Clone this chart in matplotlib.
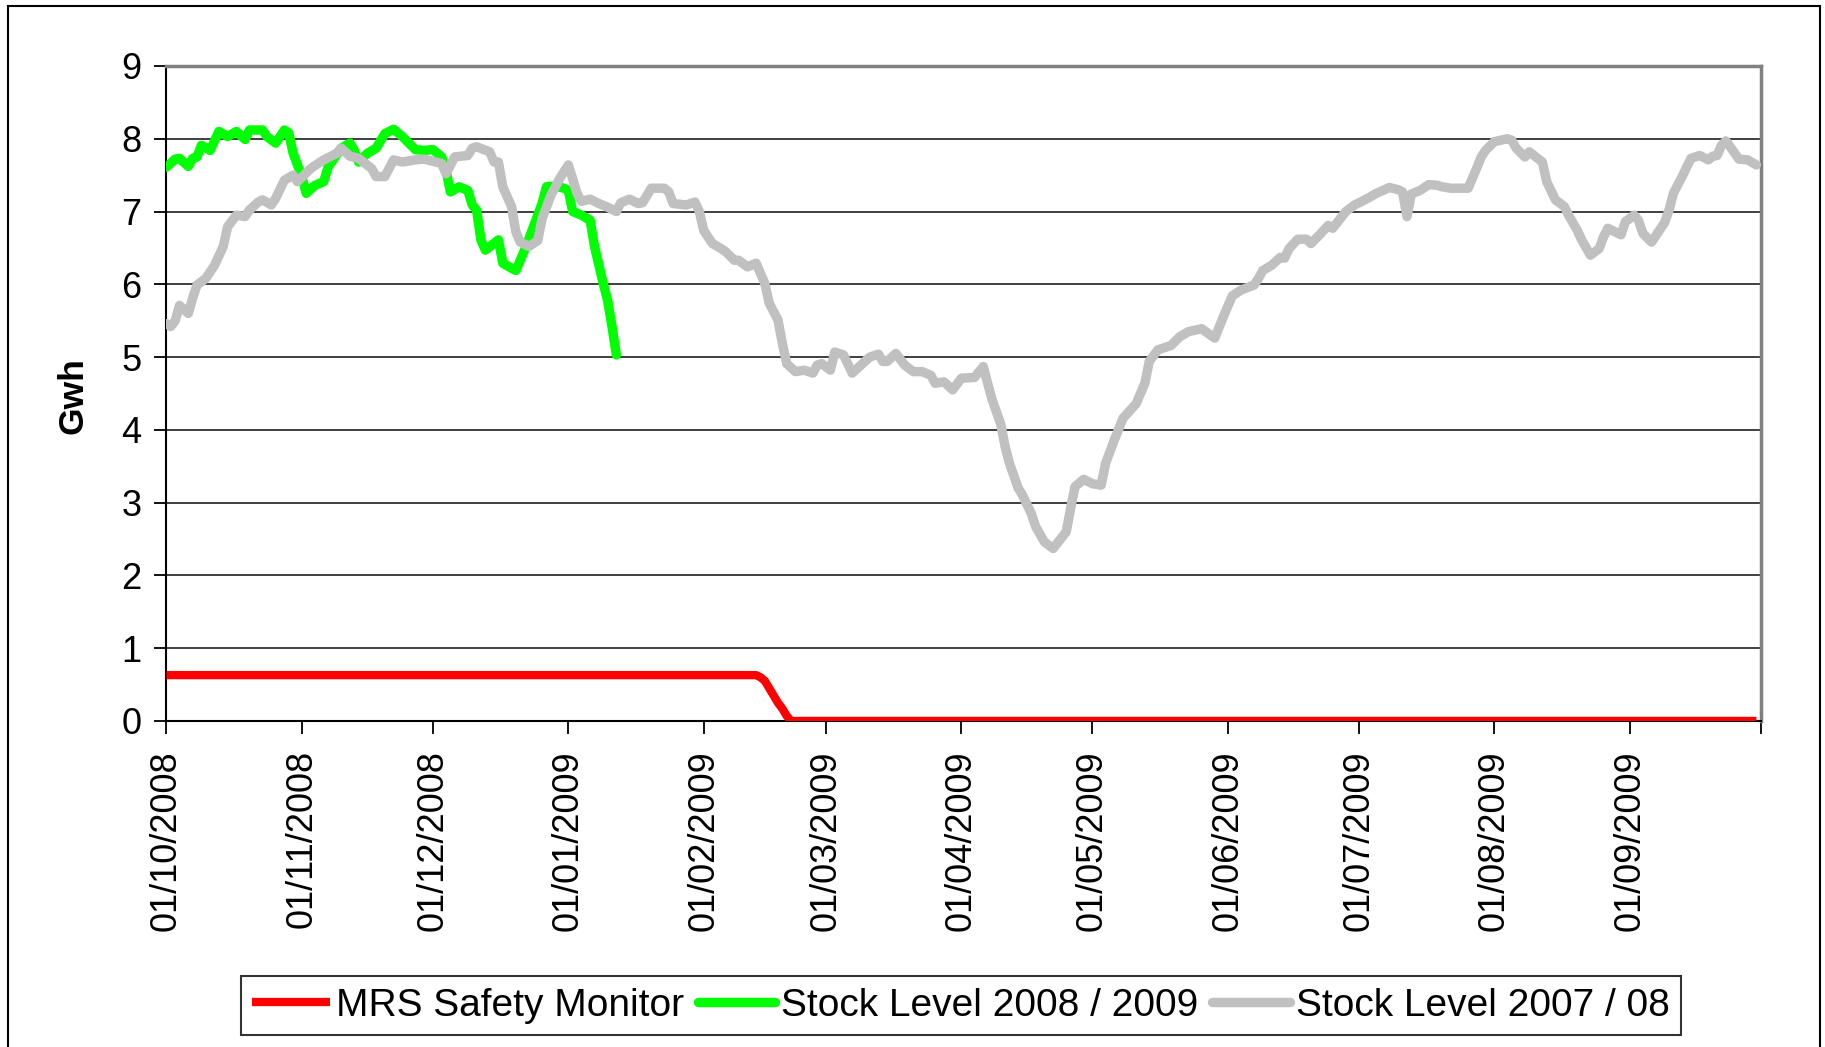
import numpy as np
import matplotlib
matplotlib.use('Agg')
import matplotlib.pyplot as plt
import matplotlib.dates as mdates
from matplotlib.patches import Rectangle

plt.rcParams['font.family'] = ['Liberation Sans', 'DejaVu Sans']

start = np.datetime64('2008-10-01')
end = np.datetime64('2009-10-01')

# day offsets from 01/10/2008 and stock values (Gwh)
red_days = [0, 135, 136, 137, 138, 139, 140, 141, 142, 143, 364]
red_vals = [0.63, 0.63, 0.60, 0.55, 0.45, 0.35, 0.25, 0.17, 0.07, 0.0, 0.0]

green_days = [0, 2, 3, 5, 6, 7, 8, 10, 12, 14, 16, 18, 19, 22, 23, 25, 27, 28, 29, 31,
              32, 34, 36, 37, 40, 42, 43, 44, 46, 48, 50, 52, 54, 57, 59, 61, 63, 64, 65,
              67, 69, 70, 71, 72, 73, 76, 77, 79, 80, 82, 84, 86, 87, 89, 91, 92, 93, 95,
              97, 98, 100, 101, 102, 103]
green_vals = [7.61, 7.72, 7.73, 7.62, 7.73, 7.75, 7.91, 7.84, 8.10, 8.03, 8.10, 7.99, 8.12,
              8.12, 8.03, 7.94, 8.12, 8.08, 7.80, 7.48, 7.25, 7.36, 7.41, 7.61, 7.87, 7.94,
              7.84, 7.68, 7.80, 7.87, 8.07, 8.13, 8.03, 7.85, 7.84, 7.85, 7.75, 7.57, 7.27,
              7.34, 7.29, 7.09, 7.02, 6.61, 6.47, 6.61, 6.29, 6.22, 6.19, 6.47, 6.79, 7.11,
              7.34, 7.35, 7.32, 7.29, 7.00, 6.95, 6.88, 6.52, 6.01, 5.78, 5.42, 5.03]

gray_days = [0, 1, 2, 3, 5, 6, 7, 9, 11, 13, 14, 16, 18, 19, 21, 22, 24, 25, 27, 29, 30,
             33, 36, 39, 40, 42, 44, 47, 48, 50, 52, 54, 57, 59, 63, 64, 66, 69, 70, 71,
             74, 75, 76, 77, 79, 80, 81, 83, 85, 86, 88, 90, 92, 93, 94, 95, 97, 99, 101,
             103, 104, 106, 108, 109, 111, 114, 115, 116, 119, 121, 122, 123, 125, 127,
             128, 130, 131, 133, 135, 137, 138, 140, 141, 142, 144, 146, 148, 149, 150,
             152, 153, 155, 157, 159, 161, 163, 164, 165, 167, 169, 171, 173, 175, 176,
             178, 180, 182, 185, 187, 188, 189, 191, 192, 193, 195, 196, 198, 199, 201,
             203, 206, 207, 208, 210, 212, 214, 215, 217, 219, 222, 224, 225, 227, 230,
             232, 234, 237, 240, 242, 244, 246, 249, 250, 251, 253, 255, 256, 257, 259,
             261, 262, 264, 266, 267, 270, 272, 275, 277, 280, 282, 283, 284, 285, 287,
             289, 291, 292, 294, 298, 300, 301, 302, 304, 307, 308, 309, 311, 312, 315,
             316, 318, 320, 321, 323, 324, 326, 328, 329, 330, 333, 334, 336, 337, 338,
             340, 343, 344, 345, 347, 349, 351, 353, 354, 355, 356, 357, 358, 360, 362, 364]
gray_vals = [5.46, 5.42, 5.50, 5.71, 5.60, 5.81, 5.99, 6.08, 6.26, 6.52, 6.79, 6.95, 6.93,
             7.02, 7.13, 7.16, 7.09, 7.18, 7.43, 7.50, 7.41, 7.59, 7.71, 7.80, 7.87, 7.76,
             7.73, 7.59, 7.48, 7.48, 7.71, 7.68, 7.71, 7.72, 7.66, 7.52, 7.75, 7.77, 7.87,
             7.89, 7.82, 7.68, 7.68, 7.34, 7.07, 6.72, 6.58, 6.52, 6.60, 6.90, 7.22, 7.45,
             7.64, 7.45, 7.25, 7.14, 7.17, 7.11, 7.06, 7.00, 7.12, 7.17, 7.11, 7.12, 7.32,
             7.32, 7.27, 7.11, 7.09, 7.13, 7.00, 6.74, 6.56, 6.49, 6.45, 6.33, 6.33, 6.24,
             6.29, 6.01, 5.74, 5.51, 5.19, 4.91, 4.80, 4.82, 4.78, 4.89, 4.91, 4.82, 5.07,
             5.03, 4.78, 4.89, 5.00, 5.04, 4.94, 4.94, 5.05, 4.89, 4.80, 4.80, 4.75, 4.64,
             4.66, 4.55, 4.71, 4.72, 4.87, 4.64, 4.42, 4.08, 3.77, 3.54, 3.20, 3.10, 2.85,
             2.67, 2.46, 2.37, 2.60, 2.92, 3.22, 3.32, 3.26, 3.24, 3.54, 3.86, 4.16, 4.36,
             4.64, 4.94, 5.10, 5.16, 5.28, 5.35, 5.39, 5.26, 5.56, 5.84, 5.92, 5.99, 6.08,
             6.19, 6.26, 6.37, 6.36, 6.49, 6.62, 6.62, 6.56, 6.68, 6.81, 6.77, 7.00, 7.09,
             7.18, 7.25, 7.33, 7.30, 7.27, 6.93, 7.24, 7.29, 7.37, 7.36, 7.34, 7.32, 7.32,
             7.60, 7.75, 7.84, 7.96, 8.00, 7.98, 7.87, 7.75, 7.82, 7.68, 7.41, 7.16, 7.07,
             6.95, 6.74, 6.61, 6.40, 6.49, 6.65, 6.77, 6.68, 6.86, 6.95, 6.88, 6.70, 6.58,
             6.85, 7.02, 7.25, 7.48, 7.73, 7.77, 7.71, 7.76, 7.77, 7.91, 7.97, 7.89, 7.72,
             7.71, 7.64]

labels = ['MRS Safety Monitor', 'Stock Level 2008 / 2009', 'Stock Level 2007 / 08']


def to_dates(days):
    return start + np.array(days).astype('timedelta64[D]')


def month_label(x, pos=None):
    d = mdates.num2date(x)
    if d.year == 2009 and d.month == 10:
        return ''
    return d.strftime('%d/%m/%Y')


fig = plt.figure(figsize=(18.25, 10.47), dpi=100)
ax = fig.add_axes([0.0912, 0.3114, 0.8736, 0.6256])

ax.plot(to_dates(red_days), red_vals, color='#FF0000', lw=6.0, label=labels[0],
        solid_joinstyle='round', solid_capstyle='butt', zorder=3)
ax.plot(to_dates(green_days), green_vals, color='#00FF00', lw=6.8, label=labels[1],
        solid_joinstyle='round', solid_capstyle='round', zorder=3)
ax.plot(to_dates(gray_days), gray_vals, color='#C0C0C0', lw=6.8, label=labels[2],
        solid_joinstyle='round', solid_capstyle='round', zorder=3)

ax.set_ylim(0, 9)
ax.set_yticks(range(0, 10))
ax.set_xlim(start, end)
ax.xaxis.set_major_locator(mdates.MonthLocator())
ax.xaxis.set_major_formatter(plt.FuncFormatter(month_label))
ax.yaxis.grid(True, color='#303030', lw=1.3)
ax.set_axisbelow(True)

ax.tick_params(axis='y', labelsize=26, length=9, width=1.3, pad=9)
ax.tick_params(axis='x', labelsize=26, length=9, width=1.3, pad=12, labelrotation=90)

for s in ['left', 'bottom']:
    ax.spines[s].set_color('black')
    ax.spines[s].set_linewidth(1.5)
for s in ['top', 'right']:
    ax.spines[s].set_color('#808080')
    ax.spines[s].set_linewidth(2.5)

fig.text(0.040, 0.622, 'Gwh', rotation=90, fontsize=25.5, fontweight='bold',
         ha='center', va='center')

leg = fig.legend(loc='center', bbox_to_anchor=(0.5265, 0.0395), ncol=3, fontsize=28,
                 frameon=True, fancybox=False, handlelength=2.0, handletextpad=0.15,
                 columnspacing=0.35, borderpad=0.3, borderaxespad=0)
leg.get_frame().set_edgecolor('black')
leg.get_frame().set_linewidth(1.5)

fig.patches.append(Rectangle((8 / 1825, -0.01), 1812 / 1825, 1.01 - 6 / 1047,
                             transform=fig.transFigure, fill=False,
                             edgecolor='black', lw=1.5))

plt.savefig('out.png')
